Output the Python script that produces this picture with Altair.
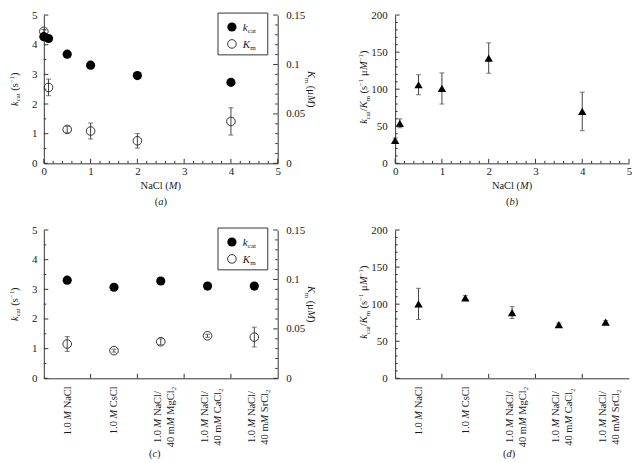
import math
import numpy as np
import pandas as pd
import altair as alt

FONT = "Liberation Serif"
INK = "#1a1a1a"
AX = "#333333"
ERR = "#444444"

# ---------------- data ----------------
# panels (a) and (b): NaCl concentration (M)
nacl_M = [0, 0.1, 0.5, 1, 2, 4]
kcat_a = [4.27, 4.21, 3.68, 3.31, 2.96, 2.73]
km_a = [0.1334, 0.0768, 0.0343, 0.0327, 0.0228, 0.0424]
km_a_err = [0.002, 0.0084, 0.003, 0.0081, 0.0074, 0.0138]
eff_b = [31, 54, 106, 101, 142, 70]
eff_b_err = [3, 6, 13.5, 21, 20.5, 26]

# panels (c) and (d): salt conditions
salts = ["NaCl", "CsCl", "MgCl2", "CaCl2", "SrCl2"]
salt_labels = [
    "1.0 *M* NaCl",
    "1.0 *M* CsCl",
    "1.0 *M* NaCl/|40 m*M* MgCl_{2}",
    "1.0 *M* NaCl/|40 m*M* CaCl_{2}",
    "1.0 *M* NaCl/|40 m*M* SrCl_{2}",
]
kcat_c = [3.31, 3.07, 3.28, 3.11, 3.11]
km_c = [0.0347, 0.028, 0.037, 0.043, 0.0417]
km_c_err = [0.0075, 0.0015, 0.003, 0.0015, 0.01]
eff_d = [100.4, 108.5, 88.7, 72.5, 75.7]
eff_d_err = [21, 3, 8, 2, 2]

kcat_ticks = [0, 1, 2, 3, 4, 5]
km_ticks = [0, 0.05, 0.1, 0.15]
eff_ticks = [0, 50, 100, 150, 200]
nacl_ticks = [0, 1, 2, 3, 4, 5]

# ---------------- layout ----------------
W, H = 235, 149
SPACE_COL, SPACE_ROW = 118, 67

# ---------------- rich text helper ----------------
WN = {' ': .25, '(': .333, ')': .333, '/': .278, '.': .25, 'a': .444, 'c': .444,
      't': .278, 's': .389, 'm': .778, 'M': .889, 'N': .722, 'C': .667, 'l': .278,
      'g': .5, 'S': .556, 'r': .333, 'μ': .576, '−': .564, 'K': .722, 'k': .5}
WI = {'k': .444, 'K': .667, 'M': .833, 'a': .5, 'b': .5, 'c': .444, 'd': .5}


def cw(ch, it):
    if ch.isdigit():
        return 0.5
    if it and ch in WI:
        return WI[ch]
    return WN.get(ch, 0.5)


def parse(s):
    out = []
    state = {'buf': '', 'it': False, 'mode': 'base'}

    def flush():
        if state['buf']:
            out.append((state['buf'], state['it'], state['mode']))
        state['buf'] = ''

    i = 0
    while i < len(s):
        c = s[i]
        if c == '*':
            flush()
            state['it'] = not state['it']
            i += 1
            continue
        if s[i:i + 2] in ('_{', '^{'):
            flush()
            state['mode'] = 'sub' if c == '_' else 'sup'
            i += 2
            continue
        if c == '}' and state['mode'] != 'base':
            flush()
            state['mode'] = 'base'
            i += 1
            continue
        state['buf'] += c
        i += 1
    flush()
    return out


def rich(s, x, y, angle=0, size=10.5, anchor='middle'):
    items = []
    pos = 0.0
    for text, it, mode in parse(s):
        sz = size * 0.65 if mode != 'base' else size
        sh = size * 0.22 if mode == 'sub' else (-size * 0.4 if mode == 'sup' else 0.0)
        lead = len(text) - len(text.lstrip(' '))
        w_lead = sum(cw(c, it) for c in text[:lead]) * sz
        w = sum(cw(c, it) for c in text) * sz
        items.append((text.strip(' '), it, sz, pos + w_lead, sh))
        pos += w
    off = {'start': 0.0, 'middle': -pos / 2, 'end': -pos}[anchor]
    a = math.radians(angle)
    dx, dy = math.cos(a), math.sin(a)
    nx, ny = -math.sin(a), math.cos(a)
    rows = []
    for t, it, sz, p, sh in items:
        if not t:
            continue
        s_ = off + p
        rows.append(dict(t=t, it=it, sz=sz, ang=angle,
                         px=x + s_ * dx + sh * nx, py=y + s_ * dy + sh * ny))
    return rows


def text_layers(rows):
    df = pd.DataFrame(rows)
    layers = []
    for it in (False, True):
        sub = df[df['it'] == it].drop(columns=['it'])
        if len(sub) == 0:
            continue
        layers.append(
            alt.Chart(sub).mark_text(align='left', baseline='alphabetic', font=FONT,
                                     fontStyle='italic' if it else 'normal', color=INK)
            .encode(x=alt.X('px:Q', scale=None, axis=None),
                    y=alt.Y('py:Q', scale=None, axis=None),
                    text='t:N',
                    size=alt.Size('sz:Q', scale=None, legend=None),
                    angle=alt.Angle('ang:Q', scale=None)))
    return layers


def split_ticks(hi, minor, major):
    vals = np.round(np.arange(0, hi + minor / 2, minor), 6)
    maj = [float(v) for v in vals if abs(v / major - round(v / major)) < 1e-6]
    mnr = [float(v) for v in vals if abs(v / major - round(v / major)) >= 1e-6]
    return maj, mnr


def y_tick_layers(hi, minor, major, scale, axis, side):
    maj, mnr = split_ticks(hi, minor, major)
    out = []
    for vals, L in ((maj, 4.5), (mnr, 2.5)):
        d = pd.DataFrame({'v': vals})
        if side == 'left':
            xx, xx2 = alt.value(0), alt.value(L)
        else:
            xx, xx2 = alt.value(W), alt.value(W - L)
        out.append(alt.Chart(d).mark_rule(color=AX, strokeWidth=1)
                   .encode(y=alt.Y('v:Q', scale=scale, axis=axis), x=xx, x2=xx2))
    return out


def x_tick_layers(hi, minor, major, scale, axis):
    maj, mnr = split_ticks(hi, minor, major)
    out = []
    for vals, L in ((maj, 4.5), (mnr, 2.5)):
        d = pd.DataFrame({'v': vals})
        out.append(alt.Chart(d).mark_rule(color=AX, strokeWidth=1)
                   .encode(x=alt.X('v:Q', scale=scale, axis=axis),
                           y=alt.value(H), y2=alt.value(H - L)))
    return out


def band_tick_layer(n):
    d = pd.DataFrame({'bx': [W * i / n for i in range(1, n)]})
    return alt.Chart(d).mark_rule(color=AX, strokeWidth=1).encode(
        x=alt.X('bx:Q', scale=None, axis=None), y=alt.value(H), y2=alt.value(H - 4.5))


ONE = pd.DataFrame({'k': [0]})


def legend_layers():
    box = alt.Chart(ONE).mark_rect(fillOpacity=0, stroke=AX, strokeWidth=1).encode(
        x=alt.value(W - 60), x2=alt.value(W - 10), y=alt.value(-2), y2=alt.value(40))
    s1 = alt.Chart(ONE).mark_circle(size=85, color='black', opacity=1).encode(
        x=alt.value(W - 46), y=alt.value(12))
    s2 = alt.Chart(ONE).mark_point(shape='circle', filled=False, size=75, color='#333333',
                                   strokeWidth=1, opacity=1).encode(
        x=alt.value(W - 46), y=alt.value(29))
    return [box, s1, s2]


legend_text = (rich("*k*_{cat}", W - 35, 16, 0, 11, 'start')
               + rich("*K*_{m}", W - 35, 33, 0, 11, 'start'))

# ---------------- scales / axes ----------------
sx_num = alt.Scale(domain=[0, 5], nice=False, zero=False)
sk = alt.Scale(domain=[0, 5], nice=False)
skm = alt.Scale(domain=[0, 0.15], nice=False)
seff = alt.Scale(domain=[0, 200], nice=False)
scat = alt.Scale(type='point', domain=salts, padding=0.5)

ax_k = alt.Axis(values=kcat_ticks, title=None, orient='left', labelPadding=7)
ax_km = alt.Axis(values=km_ticks, title=None, orient='right', labelPadding=8,
                 labelExpr="format(datum.value, '.2~f')")
ax_eff = alt.Axis(values=eff_ticks, title=None, orient='left', labelPadding=8)
ax_xn = alt.Axis(values=nacl_ticks, title=None, orient='bottom', labelPadding=2)
ax_xc = alt.Axis(labels=False, title=None, orient='bottom')


def km_layers(df, xenc):
    yl = alt.Y('lo:Q', scale=skm, axis=ax_km)
    yh = alt.Y('hi:Q', scale=skm, axis=ax_km)
    return [
        alt.Chart(df).mark_rule(color=ERR, strokeWidth=1).encode(x=xenc, y=yl, y2='hi:Q'),
        alt.Chart(df).mark_tick(orient='horizontal', size=5, thickness=1, color=ERR).encode(x=xenc, y=yl),
        alt.Chart(df).mark_tick(orient='horizontal', size=5, thickness=1, color=ERR).encode(x=xenc, y=yh),
        alt.Chart(df).mark_point(shape='circle', filled=False, size=75, color='#333333',
                                 strokeWidth=1, opacity=1).encode(
            x=xenc, y=alt.Y('km:Q', scale=skm, axis=ax_km)),
    ] + y_tick_layers(0.15, 0.01, 0.05, skm, ax_km, 'right')


def eff_layers(df, xenc):
    yl = alt.Y('lo:Q', scale=seff, axis=ax_eff)
    yh = alt.Y('hi:Q', scale=seff, axis=ax_eff)
    return [
        alt.Chart(df).mark_rule(color=ERR, strokeWidth=1).encode(x=xenc, y=yl, y2='hi:Q'),
        alt.Chart(df).mark_tick(orient='horizontal', size=5, thickness=1, color=ERR).encode(x=xenc, y=yl),
        alt.Chart(df).mark_tick(orient='horizontal', size=5, thickness=1, color=ERR).encode(x=xenc, y=yh),
        alt.Chart(df).mark_point(shape='triangle-up', filled=True, size=70, color='black',
                                 opacity=1).encode(
            x=xenc, y=alt.Y('eff:Q', scale=seff, axis=ax_eff)),
    ] + y_tick_layers(200, 10, 50, seff, ax_eff, 'left')


def cat_label_rows():
    rows = []
    n = len(salt_labels)
    for i, lab in enumerate(salt_labels):
        bc = (i + 0.5) * W / n
        lines = lab.split('|')
        if len(lines) == 1:
            rows += rich(lines[0], bc + 3.5, H + 8, 270, 10.5, 'end')
        else:
            rows += rich(lines[0], bc + 0.5, H + 39, 270, 10.5, 'middle')
            rows += rich(lines[1], bc + 13.5, H + 39, 270, 10.5, 'middle')
    return rows


# ---------------- panel (a) ----------------
df_a = pd.DataFrame({'x': nacl_M, 'kcat': kcat_a, 'km': km_a,
                     'lo': [m - e for m, e in zip(km_a, km_a_err)],
                     'hi': [m + e for m, e in zip(km_a, km_a_err)]})
xa = alt.X('x:Q', scale=sx_num, axis=ax_xn)
rows_a = (rich("*k*_{cat} (s^{−1})", -26, H / 2, 270)
          + rich("*K*_{m} (μ*M*)", W + 30, H / 2, 90)
          + rich("NaCl (*M*)", W / 2, H + 26)
          + rich("(*a*)", W / 2, H + 42)
          + legend_text)
right_a = alt.layer(*km_layers(df_a, xa))
left_a = alt.layer(
    *legend_layers(),
    alt.Chart(df_a).mark_circle(size=85, color='black', opacity=1).encode(
        x=xa, y=alt.Y('kcat:Q', scale=sk, axis=ax_k)),
    *y_tick_layers(5, 0.5, 1, sk, ax_k, 'left'),
    *x_tick_layers(5, 0.2, 1, sx_num, ax_xn),
    *text_layers(rows_a),
)
pa = alt.layer(right_a, left_a).resolve_scale(y='independent').properties(width=W, height=H)

# ---------------- panel (b) ----------------
df_b = pd.DataFrame({'x': nacl_M, 'eff': eff_b,
                     'lo': [m - e for m, e in zip(eff_b, eff_b_err)],
                     'hi': [m + e for m, e in zip(eff_b, eff_b_err)]})
rows_b = (rich("*k*_{cat}/*K*_{m} (s^{−1} μ*M*^{−1})", -28, H / 2 - 2, 270)
          + rich("NaCl (*M*)", W / 2, H + 26)
          + rich("(*b*)", W / 2, H + 42))
pb = alt.layer(
    *eff_layers(df_b, xa),
    *x_tick_layers(5, 0.2, 1, sx_num, ax_xn),
    *text_layers(rows_b),
).properties(width=W, height=H)

# ---------------- panel (c) ----------------
df_c = pd.DataFrame({'salt': salts, 'kcat': kcat_c, 'km': km_c,
                     'lo': [m - e for m, e in zip(km_c, km_c_err)],
                     'hi': [m + e for m, e in zip(km_c, km_c_err)]})
xc = alt.X('salt:N', scale=scat, axis=ax_xc, sort=salts)
rows_c = (rich("*k*_{cat} (s^{−1})", -26, H / 2, 270)
          + rich("*K*_{m} (μ*M*)", W + 30, H / 2, 90)
          + cat_label_rows()
          + rich("(*c*)", W / 2 - 6, H + 79)
          + legend_text)
right_c = alt.layer(*km_layers(df_c, xc))
left_c = alt.layer(
    *legend_layers(),
    alt.Chart(df_c).mark_circle(size=85, color='black', opacity=1).encode(
        x=xc, y=alt.Y('kcat:Q', scale=sk, axis=ax_k)),
    *y_tick_layers(5, 0.5, 1, sk, ax_k, 'left'),
    band_tick_layer(len(salts)),
    *text_layers(rows_c),
)
pc = alt.layer(right_c, left_c).resolve_scale(y='independent').properties(width=W, height=H)

# ---------------- panel (d) ----------------
df_d = pd.DataFrame({'salt': salts, 'eff': eff_d,
                     'lo': [m - e for m, e in zip(eff_d, eff_d_err)],
                     'hi': [m + e for m, e in zip(eff_d, eff_d_err)]})
rows_d = (rich("*k*_{cat}/*K*_{m} (s^{−1} μ*M*^{−1})", -28, H / 2 - 2, 270)
          + cat_label_rows()
          + rich("(*d*)", W / 2 - 3, H + 79))
pd_ = alt.layer(
    *eff_layers(df_d, xc),
    band_tick_layer(len(salts)),
    *text_layers(rows_d),
).properties(width=W, height=H)

chart = alt.concat(
    pa, pb, pc, pd_, columns=2,
    spacing={'row': SPACE_ROW, 'column': SPACE_COL},
    bounds='flush',
).properties(
    padding={'left': 0, 'top': 0, 'right': 0, 'bottom': 0}
).configure_view(stroke=None).configure_axis(
    labelFont=FONT, labelFontSize=11, labelColor=INK, domainColor=AX, domainWidth=1,
    ticks=False, grid=False, labelFlush=False, labelOverlap=False,
)

chart.save("out.html", embed_options={"renderer": "svg", "actions": False})
